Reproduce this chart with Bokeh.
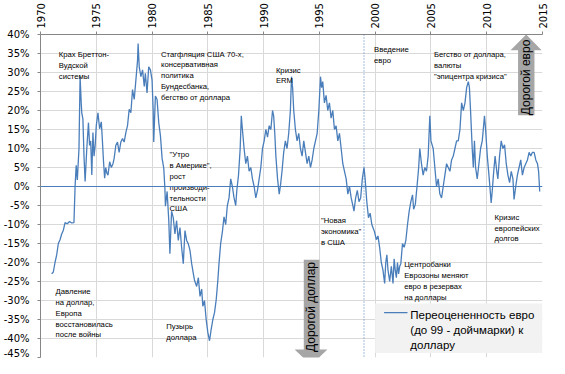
import numpy as np
from bokeh.plotting import figure
from bokeh.models import Span, FixedTicker, SingleIntervalTicker, PrintfTickFormatter, Range1d, ColumnDataSource
from bokeh.embed import file_html
from bokeh.resources import INLINE
from bokeh.core.properties import value

# ---- data: overvaluation of EUR (DEM before 1999) vs USD, % ----
years = [1971.0, 1971.15, 1971.3, 1971.45, 1971.6, 1971.75, 1971.9, 1972.05, 1972.2, 1972.4, 1972.6, 1972.8, 1973.0,
         1973.1, 1973.2, 1973.3, 1973.45, 1973.55, 1973.65, 1973.7, 1973.8, 1973.9, 1974.0, 1974.15, 1974.3, 1974.4,
         1974.5, 1974.6, 1974.7, 1974.8, 1974.9, 1975.0, 1975.15, 1975.3, 1975.45, 1975.55, 1975.65, 1975.75, 1975.85,
         1975.95, 1976.05, 1976.2, 1976.35, 1976.5, 1976.6, 1976.75, 1976.9, 1977.05, 1977.2, 1977.35, 1977.5, 1977.65,
         1977.8, 1977.95, 1978.1, 1978.25, 1978.4, 1978.55, 1978.7, 1978.75, 1978.85, 1979.0, 1979.15, 1979.3, 1979.4,
         1979.55, 1979.7, 1979.85, 1980.0, 1980.1, 1980.15, 1980.3, 1980.45, 1980.6, 1980.75, 1980.9, 1981.05, 1981.15,
         1981.2, 1981.35, 1981.5, 1981.6, 1981.75, 1981.9, 1982.05, 1982.2, 1982.35, 1982.5, 1982.65, 1982.8, 1982.95,
         1983.1, 1983.25, 1983.4, 1983.55, 1983.7, 1983.8, 1984.0, 1984.15, 1984.3, 1984.45, 1984.55, 1984.7, 1984.85,
         1985.0, 1985.15, 1985.3, 1985.45, 1985.6, 1985.75, 1985.9, 1986.0, 1986.15, 1986.3, 1986.45, 1986.6, 1986.75,
         1986.9, 1987.05, 1987.2, 1987.35, 1987.5, 1987.6, 1987.75, 1987.9, 1988.0, 1988.1, 1988.25, 1988.4, 1988.55,
         1988.7, 1988.85, 1989.0, 1989.15, 1989.3, 1989.45, 1989.6, 1989.75, 1989.9, 1990.05, 1990.2, 1990.35, 1990.5,
         1990.65, 1990.8, 1990.9, 1991.0, 1991.1, 1991.25, 1991.4, 1991.5, 1991.65, 1991.8, 1991.95, 1992.1, 1992.25,
         1992.4, 1992.5, 1992.6, 1992.7, 1992.85, 1993.0, 1993.15, 1993.3, 1993.45, 1993.6, 1993.75, 1993.9, 1994.05,
         1994.2, 1994.35, 1994.5, 1994.65, 1994.8, 1994.95, 1995.1, 1995.2, 1995.3, 1995.45, 1995.6, 1995.75, 1995.9,
         1996.05, 1996.2, 1996.35, 1996.5, 1996.65, 1996.8, 1996.95, 1997.1, 1997.25, 1997.4, 1997.55, 1997.7, 1997.85,
         1998.0, 1998.1, 1998.25, 1998.4, 1998.55, 1998.7, 1998.85, 1999.0, 1999.1, 1999.25, 1999.4, 1999.55, 1999.7,
         1999.8, 1999.95, 2000.1, 2000.25, 2000.4, 2000.55, 2000.7, 2000.85, 2000.95, 2001.05, 2001.15, 2001.3, 2001.45,
         2001.6, 2001.7, 2001.8, 2001.9, 2002.0, 2002.1, 2002.2, 2002.3, 2002.45, 2002.6, 2002.75, 2002.9, 2003.05,
         2003.2, 2003.35, 2003.45, 2003.6, 2003.75, 2003.9, 2004.0, 2004.15, 2004.3, 2004.45, 2004.6, 2004.75, 2004.9,
         2005.0, 2005.2, 2005.35, 2005.5, 2005.65, 2005.8, 2005.95, 2006.1, 2006.25, 2006.4, 2006.55, 2006.7, 2006.85,
         2007.0, 2007.15, 2007.3, 2007.45, 2007.6, 2007.75, 2007.9, 2008.05, 2008.2, 2008.35, 2008.45, 2008.55, 2008.7,
         2008.8, 2008.9, 2009.0, 2009.15, 2009.3, 2009.45, 2009.6, 2009.8, 2009.9, 2010.05, 2010.2, 2010.4, 2010.5,
         2010.6, 2010.75, 2010.9, 2011.0, 2011.15, 2011.3, 2011.45, 2011.6, 2011.75, 2011.9, 2012.05, 2012.2, 2012.35,
         2012.45, 2012.6, 2012.75, 2012.9, 2013.05, 2013.2, 2013.35, 2013.5, 2013.65, 2013.8, 2013.95, 2014.1, 2014.25,
         2014.4, 2014.55, 2014.65, 2014.75]
overval = [-23, -22.5, -20, -18, -15, -14, -12.5, -11.5, -9.5, -9.8, -9.2, -9.6, -9.5,
           0, 5.6, 1.7, 10, 28.9, 22, 19.4, 17.8, 8, 1.3, 10, 16.8, 10.8,
           12, 3, 14.2, 8, 10.8, 16, 19.4, 15.2, 17, 12, 6.5, 2.2, 5,
           3.5, 3, 6.5, 5, 6, 7.4, 10.8, 11.7, 9, 11.7, 12.6, 11.7, 14.2,
           16, 20.3, 19.4, 25.5, 22.9, 28, 33.2, 37.6, 31.5, 28.9, 30.7, 26.3, 29.8,
           24.6, 31.5, 30.7, 28, 20, 11.7, 23.8, 22.9, 16.8, 13.4, 7.4, 4.8, -0.4,
           -5.2, -1.3, -9, -17.7, -6.5, -8.2, -12.5, -9, -14.2, -10.8, -16, -20.3, -11.6,
           -14.2, -15.1, -16.8, -20.3, -22.9, -24.6, -26.3, -24, -28.9, -27, -31.5, -30, -35,
           -38.4, -40.6, -37.6, -35, -33.2, -29.8, -24.6, -20.3, -15, -12, -8, -10, -5,
           -3, 2, 0, -3, -5, -1, 3, 10, 18.6, 15, 10, 6, 8,
           4, 5, 2, 0, -3, -1, 2, 5, 10, 12, 15, 13, 16,
           15, 20, 18.6, 14, 8, 2, -2, 0, 4, 9, 12, 10, 14,
           20, 28.9, 26, 20, 15, 12, 14, 10, 8, 12, 9, 6, 8,
           5, 7, 10, 12, 14, 20, 28.9, 26, 27.6, 22, 24, 20, 22,
           18, 20, 15, 16, 12, 14, 10, 6, 4, 2, -2, 0, -3,
           -5, -6.5, -3, -1, -4, -3, 2, 5, 2, -4, -8.2, -7, -10,
           -10.8, -12, -14, -13, -16, -20, -22, -25.5, -20, -18, -22, -25, -21,
           -25.5, -19, -22, -24, -20, -23, -21, -20.3, -15, -16, -14.2, -10, -6.5,
           -4, -2.2, -6, -4.7, 0, 5, 10, 6, 3, 5, 4, 8, 18.6,
           12, 10, 5, 0, 2, -2, -3, 0, 3, 6, 5, 4, 7,
           8, 10, 12, 12, 15, 22, 20, 22, 26, 27.6, 26, 20, 10,
           5, 12, 5, 2, 6, 10, 12, 18.6, 15, 8, 3, -4.3, -1,
           3, 8, 4, 2, 8, 12, 10, 11, 6, 3, 1, 4, 2,
           -3.4, 0, 3, 5, 7, 3, 5, 6, 7, 9, 8, 9, 9,
           7, 6, 4, -1.3]

x_ticks = [1970, 1975, 1980, 1985, 1990, 1995, 2000, 2005, 2010, 2015]
euro_intro_year = 1999

series_label = ["Переоцененность  евро", "(до 99 - дойчмарки) к", "доллару"]

ann_text = [
    "Крах Бреттон-\nВудской\nсистемы",
    "Стагфляция США 70-х,\nконсервативная\nполитика\nБундесбанка,\nбегство от доллара",
    "Кризис\nERM",
    "Введение\nевро",
    "Бегство от доллара,\nвалюты\n\"эпицентра кризиса\"",
    "\"Утро\nв Америке\",\nрост\nпроизводи-\nтельности\nСША",
    "Давление\nна доллар,\nЕвропа\nвосстановилась\nпосле  войны",
    "Пузырь\nдоллара",
    "\"Новая\nэкономика\"\nв США",
    "Центробанки\nЕврозоны  меняют\nевро в резервах\nна доллары",
    "Кризис\nевропейских\nдолгов",
]
ann_x = [1971.64, 1980.8, 1991.1, 1999.9, 2005.27, 1981.57, 1971.35, 1981.27, 1995.14, 2002.6, 2010.7]
ann_y = [35.9, 36.0, 31.8, 37.2, 35.9, 9.5, -26.5, -35.6, -7.8, -19.4, -6.9]

arrow_text = ["Дорогой евро", "Дорогой доллар"]
arrow_text_x = [2013.55, 1994.28]
arrow_text_y = [28.7, -31.7]
arrow_up_x = [2012.81, 2012.81, 2012.13, 2013.54, 2014.92, 2014.28, 2014.28]
arrow_up_y = [18.76, 35.85, 35.85, 40.0, 35.85, 35.85, 18.76]
arrow_dn_x = [1993.6, 1995.01, 1995.01, 1995.72, 1994.25, 1992.78, 1993.6]
arrow_dn_y = [-19.25, -19.25, -42.9, -42.9, -47.0, -42.9, -42.9]

# legend box (inside the plot, data coordinates)
leg_left, leg_right, leg_top, leg_bottom = 2000.0, 2015.0, -30.8, -43.8
leg_line_x = [2000.8, 2002.9]
leg_line_y = -33.2
leg_text_x = 2003.15
leg_text_y = [-33.7, -37.8, -41.6]

BLUE = "#4a7ebb"
AXIS = "#868686"
GRID = "#d9d9d9"

p = figure(frame_width=502, frame_height=323, x_range=Range1d(1970, 2015), y_range=Range1d(-45, 40),
           x_axis_location="above", output_backend="svg", toolbar_location=None,
           min_border_left=40, min_border_right=7, min_border_top=34, min_border_bottom=1)
p.outline_line_color = None
p.background_fill_color = "white"
p.border_fill_color = "white"

p.xaxis.ticker = FixedTicker(ticks=x_ticks)
p.yaxis.ticker = SingleIntervalTicker(interval=5, num_minor_ticks=0)
p.yaxis.formatter = PrintfTickFormatter(format="%d%%")
p.xaxis.major_label_orientation = np.pi / 2
for ax in (p.xaxis, p.yaxis):
    ax.axis_line_color = AXIS
    ax.major_tick_line_color = AXIS
    ax.minor_tick_line_color = None
    ax.major_tick_in = 0
    ax.major_tick_out = 3
    ax.major_label_text_font = "DejaVu Sans"
    ax.major_label_text_font_size = "10px"
    ax.major_label_text_color = "black"
p.xaxis.major_label_standoff = 3
p.yaxis.major_label_standoff = 8
p.xgrid.ticker = FixedTicker(ticks=x_ticks)
p.grid.grid_line_color = GRID
p.grid.grid_line_width = 1

p.line(years, overval, line_color=BLUE, line_width=1.3)

p.add_layout(Span(location=0, dimension="width", line_color=BLUE, line_width=1))
p.add_layout(Span(location=euro_intro_year, dimension="height", line_color=BLUE, line_width=1, line_dash="1 2"))

p.patch(arrow_up_x, arrow_up_y, fill_color="#a6a6a6", line_color=None)
p.patch(arrow_dn_x, arrow_dn_y, fill_color="#a6a6a6", line_color=None)
p.text(x=arrow_text_x, y=arrow_text_y, text=arrow_text, angle=np.pi / 2, text_align="center",
       text_baseline="middle", text_font=value("Liberation Sans"), text_font_size="12px", text_color="black")

ann_src = ColumnDataSource(dict(x=ann_x, y=ann_y, text=ann_text))
p.text(x="x", y="y", text="text", source=ann_src, text_font=value("Liberation Sans"),
       text_font_size="7.7px", text_line_height=1.2, text_align="left", text_baseline="top", text_color="black")

p.quad(left=[leg_left], right=[leg_right], top=[leg_top], bottom=[leg_bottom], fill_color="#f2f2f2", line_color=None)
p.line(leg_line_x, [leg_line_y, leg_line_y], line_color=BLUE, line_width=1.3)
p.text(x=[leg_text_x] * 3, y=leg_text_y, text=series_label, text_font=value("Liberation Sans"),
       text_font_size="11.5px", text_align="left", text_baseline="middle", text_color="black")

open("out.html", "w").write(file_html(p, INLINE))
